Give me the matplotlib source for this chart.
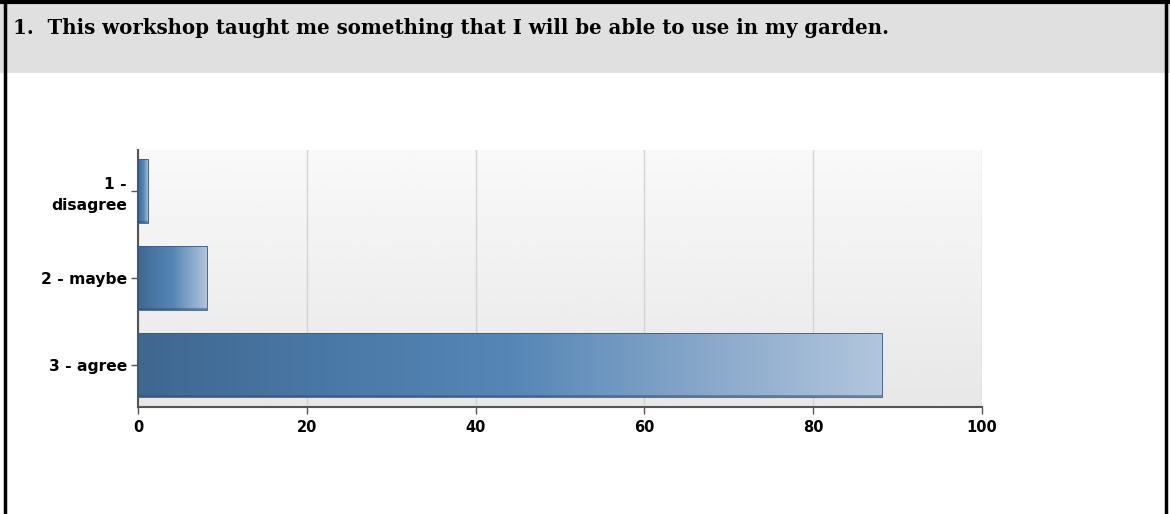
import numpy as np
import matplotlib.pyplot as plt
from matplotlib.colors import LinearSegmentedColormap
from matplotlib.patches import Rectangle

plt.rcParams['font.family'] = ['DejaVu Sans']

# survey answers (percent of respondents)
labels = ["1 -\ndisagree", "2 - maybe", "3 - agree"]
percent = [1.2, 8.2, 88.2]
xticks = [0, 20, 40, 60, 80, 100]
title = "1.  This workshop taught me something that I will be able to use in my garden."

fig = plt.figure(figsize=(11.7, 5.14), dpi=100)

# header band and page frame
fig.patches.append(Rectangle((0, 0.858), 1, 0.142, transform=fig.transFigure,
                             facecolor="#e0e0e0", edgecolor="none", zorder=0))
fig.lines.append(plt.Line2D([0.004, 0.004], [0, 1], transform=fig.transFigure,
                            color="black", lw=2.5))
fig.lines.append(plt.Line2D([0.997, 0.997], [0, 1], transform=fig.transFigure,
                            color="black", lw=2.5))
fig.lines.append(plt.Line2D([0, 1], [0.997, 0.997], transform=fig.transFigure,
                            color="black", lw=3))
fig.text(0.011, 0.946, title, family=["DejaVu Serif", "Liberation Serif"],
         weight="bold", fontsize=14.25, va="center", ha="left")

ax = fig.add_axes([138 / 1170, 1 - 407 / 514, 844 / 1170, 257 / 514])

# soft vertical gradient behind the bars
bg = np.linspace(0.975, 0.905, 200).reshape(-1, 1)
ax.imshow(bg, cmap="gray", vmin=0, vmax=1, aspect="auto",
          extent=[0, 1, 0, 1], transform=ax.transAxes, zorder=0)

ax.set_xlim(0, 100)
ax.set_ylim(2.48, -0.47)
ax.set_xticks(xticks)
ax.set_yticks(range(len(labels)))
ax.set_yticklabels(labels, linespacing=1.45)
ax.grid(axis="x", color="#d4d4d4", lw=1, zorder=1)
ax.set_axisbelow(True)

bar_cmap = LinearSegmentedColormap.from_list(
    "bar", ["#3f6790", "#4a78a6", "#5586b6", "#86a6c9", "#b2c6dd"])
grad = np.linspace(0, 1, 256).reshape(1, -1)

bars = ax.barh(range(len(labels)), percent, height=0.74,
               color="none", edgecolor="#3a5a80", lw=0.6, zorder=3)
for b in bars:
    x0, y0, w, h = b.get_x(), b.get_y(), b.get_width(), b.get_height()
    im = ax.imshow(grad, cmap=bar_cmap, aspect="auto",
                   extent=[x0, x0 + w, y0 + h, y0], zorder=2)
    im.set_clip_path(b)
    # darker strip along the lower edge
    ax.add_patch(Rectangle((x0, y0 + h * 0.96), w, h * 0.04,
                           facecolor="#2f4f73", alpha=0.5, edgecolor="none", zorder=2.5))

for s in ["top", "right"]:
    ax.spines[s].set_visible(False)
for s in ["left", "bottom"]:
    ax.spines[s].set_color("#555555")
    ax.spines[s].set_linewidth(1.5)

ax.tick_params(axis="both", colors="#555555", length=5, width=1)
for t in ax.get_xticklabels():
    t.set_color("black")
    t.set_fontweight("bold")
    t.set_fontsize(10.5)
for t in ax.get_yticklabels():
    t.set_color("black")
    t.set_fontweight("bold")
    t.set_fontsize(11.2)
ax.tick_params(axis="x", pad=4)
ax.tick_params(axis="y", pad=3)

fig.savefig("out.png", dpi=100)
